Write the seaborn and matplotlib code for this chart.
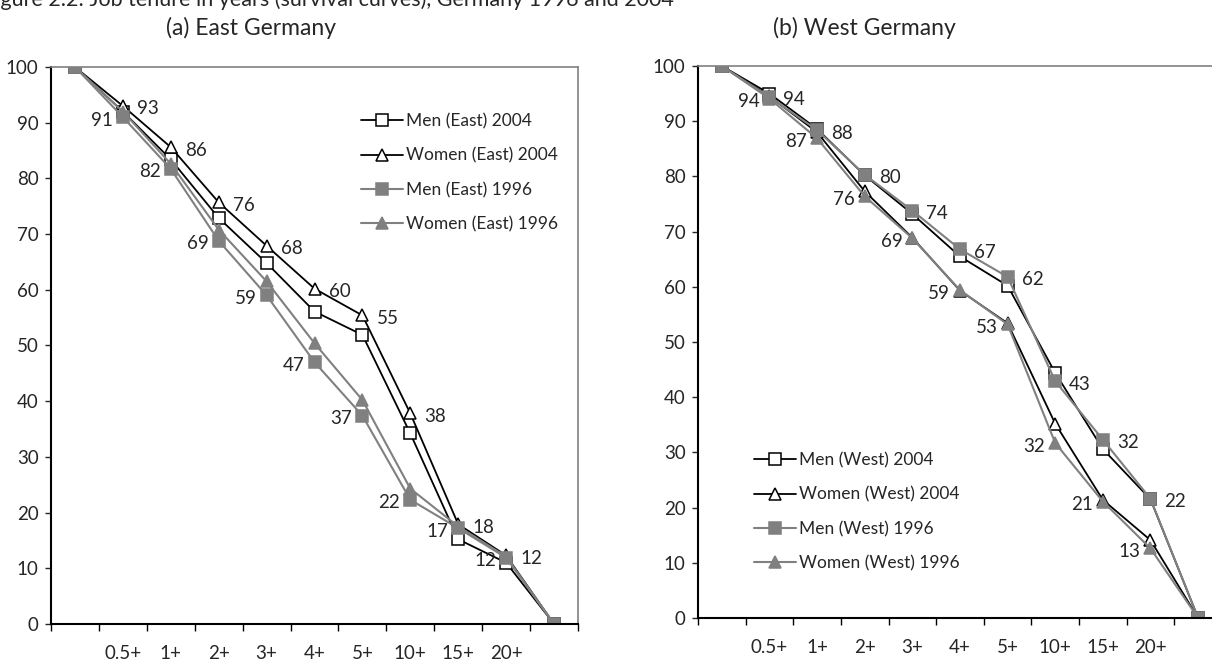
import matplotlib
matplotlib.use("Agg")
import matplotlib.pyplot as plt
import seaborn as sns

# categorias do eixo x (anos de permanencia)
tenure_labels = ["", "0.5+", "1+", "2+", "3+", "4+", "5+", "10+", "15+", "20+", ""]
xpos = list(range(len(tenure_labels)))

# Alemanha Oriental
east_men_2004 = [100, 92, 83.4, 72.9, 64.8, 56.1, 51.9, 34.2, 15.2, 11.0, 0]
east_women_2004 = [100, 93, 85.6, 75.7, 67.9, 60.2, 55.4, 37.8, 17.9, 12.3, 0]
east_men_1996 = [100, 91, 81.7, 68.8, 59, 47, 37.4, 22.3, 17.2, 11.9, 0]
east_women_1996 = [100, 92, 82.6, 70.8, 61.5, 50.4, 40.2, 24.3, 17.5, 12.1, 0]

# Alemanha Ocidental
west_men_2004 = [100, 95, 88.6, 80.2, 73.2, 65.5, 60.2, 44.4, 30.6, 21.5, 0]
west_women_2004 = [100, 94.5, 88, 77.3, 68.9, 59.3, 53.4, 35.2, 21.4, 14.1, 0]
west_men_1996 = [100, 94.4, 88.4, 80.3, 73.8, 66.8, 61.8, 42.9, 32.3, 21.6, 0]
west_women_1996 = [100, 94.1, 86.9, 76.4, 68.8, 59.4, 53.2, 31.7, 21.1, 12.6, 0]

sns.set_style("ticks")
plt.rcParams['font.family'] = ['Lato', 'DejaVu Sans']

GRAY = '#808080'
FS = 13.5


def draw_panel(ax, series, names, left_idx, right_idx):
    styles = [
        dict(color='black', marker='s', markerfacecolor='white', markeredgecolor='black', lw=1.3),
        dict(color='black', marker='^', markerfacecolor='white', markeredgecolor='black', lw=1.3),
        dict(color=GRAY, marker='s', markerfacecolor=GRAY, markeredgecolor=GRAY, lw=1.5),
        dict(color=GRAY, marker='^', markerfacecolor=GRAY, markeredgecolor=GRAY, lw=1.5),
    ]
    for vals, name, st in zip(series, names, styles):
        sns.lineplot(x=xpos, y=vals, ax=ax, label=name, markersize=8,
                     markeredgewidth=1.1, **st)

    # rotulos de dados
    for i in range(1, 10):
        v = series[left_idx][i]
        ax.annotate(f"{v:.0f}", (i, v), xytext=(-10, -3), textcoords='offset pixels',
                    ha='right', va='center', fontsize=FS)
        v = series[right_idx][i]
        ax.annotate(f"{v:.0f}", (i, v), xytext=(14, -3), textcoords='offset pixels',
                    ha='left', va='center', fontsize=FS)

    ax.set_xlim(-0.5, 10.5)
    ax.set_ylim(0, 100)
    ax.set_yticks(range(0, 101, 10))
    ax.set_xticks([x - 0.5 for x in range(12)])
    ax.set_xticklabels([])
    ax.set_xticks(xpos[1:10], minor=True)
    ax.set_xticklabels(tenure_labels[1:10], minor=True)
    ax.tick_params(axis='x', which='major', length=5, width=1, direction='out', color='black')
    ax.tick_params(axis='x', which='minor', length=0, pad=15, labelsize=FS)
    ax.tick_params(axis='y', length=4, width=1, direction='out', pad=5, labelsize=FS)
    ax.set_xlabel('')
    ax.set_ylabel('')
    for s in ['left', 'bottom']:
        ax.spines[s].set_color('black')
        ax.spines[s].set_linewidth(1.5)
    for s in ['top', 'right']:
        ax.spines[s].set_color(GRAY)
        ax.spines[s].set_linewidth(1.2)
    ax.grid(False)


fig = plt.figure(figsize=(12.12, 6.66), dpi=100)
ax1 = fig.add_axes([0.0421, 0.0631, 0.4348, 0.8363])
ax2 = fig.add_axes([0.5759, 0.0721, 0.4323, 0.8288])

draw_panel(ax1, [east_men_2004, east_women_2004, east_men_1996, east_women_1996],
           ["Men (East) 2004", "Women (East) 2004", "Men (East) 1996", "Women (East) 1996"],
           left_idx=2, right_idx=1)
draw_panel(ax2, [west_men_2004, west_women_2004, west_men_1996, west_women_1996],
           ["Men (West) 2004", "Women (West) 2004", "Men (West) 1996", "Women (West) 1996"],
           left_idx=3, right_idx=2)

leg_kw = dict(frameon=False, fontsize=12.5, handlelength=2.4, handletextpad=0.2,
              labelspacing=1.05, borderpad=0, borderaxespad=0, loc='upper left')
ax1.legend(bbox_to_anchor=(0.588, 0.917), **leg_kw)
ax2.legend(bbox_to_anchor=(0.107, 0.300), **leg_kw)

fig.text(-0.014, 1 - 6 / 666, "Figure 2.2: Job tenure in years (survival curves), Germany 1996 and 2004",
         fontsize=15.5, ha='left', va='baseline')
fig.text(251 / 1212, 1 - 28 / 666, "(a) East Germany", fontsize=16.5, ha='center', va='center')
fig.text(864 / 1212, 1 - 28 / 666, "(b) West Germany", fontsize=16.5, ha='center', va='center')

fig.savefig("out.png", dpi=100)
